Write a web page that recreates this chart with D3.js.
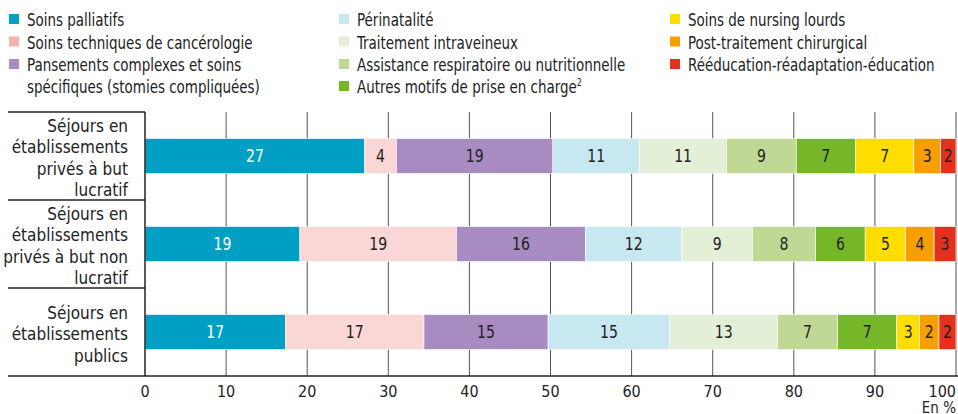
<!DOCTYPE html>
<html><head><meta charset="utf-8">
<script src="https://cdn.jsdelivr.net/npm/d3@7"></script>
<style>
body{margin:0;background:#fff;}
svg{display:block;font-family:"Liberation Sans Narrow","DejaVu Sans Condensed","Roboto Condensed",sans-serif;}
</style></head>
<body><svg id="chart" width="958" height="414"></svg>
<script>
// ---- data ----
const motifs = [
  "Soins palliatifs",
  "Soins techniques de cancérologie",
  "Pansements complexes et soins spécifiques (stomies compliquées)",
  "Périnatalité",
  "Traitement intraveineux",
  "Assistance respiratoire ou nutritionnelle",
  "Autres motifs de prise en charge²",
  "Soins de nursing lourds",
  "Post-traitement chirurgical",
  "Rééducation-réadaptation-éducation"
];
const categories = ["Privés lucratif", "Privés non lucratif", "Publics"];
const categoryLines = [
  ["Séjours en", "établissements", "privés à but", "lucratif"],
  ["Séjours en", "établissements", "privés à but non", "lucratif"],
  ["Séjours en", "établissements", "publics"]
];
const valuesLucratif    = [27.1, 3.9, 19.3, 10.7, 10.7, 8.6, 7.3, 7.2, 3.3, 1.9];
const valuesNonLucratif = [19.1, 19.3, 15.9, 11.9, 8.7, 7.8, 6.1, 5.0, 3.5, 2.7];
const valuesPublics     = [17.3, 17.1, 15.3, 15.0, 13.3, 7.4, 7.3, 2.8, 2.4, 2.1];
const labelsLucratif    = [27, 4, 19, 11, 11, 9, 7, 7, 3, 2];
const labelsNonLucratif = [19, 19, 16, 12, 9, 8, 6, 5, 4, 3];
const labelsPublics     = [17, 17, 15, 15, 13, 7, 7, 3, 2, 2];
const xTicks = [0, 10, 20, 30, 40, 50, 60, 70, 80, 90, 100];
const unitLabel = "En %";

// ---- styles ----
const colors = ["#009fc3","#fad6d5","#a78bc1","#c8e8f1","#e4efd7","#bfd995","#76b72a","#ffdd00","#f5a000","#e3311d"];
const legendColors = ["#009fc3","#f5b2ae","#a78bc1","#c8e8f1","#e4efd7","#bfd995","#76b72a","#ffdd00","#f5a000","#e3311d"];
const textColors = ["#fff","#222","#222","#222","#222","#222","#222","#222","#222","#222"];

const allValues = [valuesLucratif, valuesNonLucratif, valuesPublics];
const allLabels = [labelsLucratif, labelsNonLucratif, labelsPublics];
const table = categories.map((c, i) => {
  const o = {cat: c};
  motifs.forEach((m, j) => o[m] = allValues[i][j]);
  return o;
});

const svg = d3.select("#chart");
const x = d3.scaleLinear().domain([0, 100]).range([145, 956]);
const y = d3.scaleBand().domain(categories).range([112, 376]);
const barH = 35;

// gridlines
svg.append("g").selectAll("line").data(xTicks.slice(1)).join("line")
  .attr("x1", d => x(d)).attr("x2", d => x(d))
  .attr("y1", 112).attr("y2", 376)
  .attr("stroke", "#555").attr("stroke-width", 1);

// row separators
svg.append("g").selectAll("line").data(categories).join("line")
  .attr("x1", 8).attr("x2", 145)
  .attr("y1", d => y(d)).attr("y2", d => y(d))
  .attr("stroke", "#222").attr("stroke-width", 1.5);

// stacked bars
const series = d3.stack().keys(motifs)(table);
const gBars = svg.append("g");
series.forEach((s, j) => {
  gBars.append("g").selectAll("rect").data(s).join("rect")
    .attr("x", d => x(d[0]))
    .attr("width", d => x(d[1]) - x(d[0]))
    .attr("y", d => y(d.data.cat) + y.bandwidth() / 2 - barH / 2)
    .attr("height", barH)
    .attr("fill", colors[j])
    .attr("stroke", "#fff").attr("stroke-width", 0.6);
  gBars.append("g").selectAll("text").data(s).join("text")
    .attr("transform", d => `translate(${x((d[0] + d[1]) / 2)},${y(d.data.cat) + y.bandwidth() / 2 + 6}) scale(0.92,1)`)
    .attr("text-anchor", "middle")
    .attr("font-size", 17)
    .attr("fill", textColors[j])
    .text((d, i) => allLabels[i][j]);
});

// axes lines
svg.append("line").attr("x1", x(0)).attr("x2", x(0)).attr("y1", 112).attr("y2", 376)
  .attr("stroke", "#222").attr("stroke-width", 1.5);
svg.append("line").attr("x1", 8).attr("x2", 958).attr("y1", 376).attr("y2", 376)
  .attr("stroke", "#222").attr("stroke-width", 1.5);

// x tick labels
svg.append("g").selectAll("text").data(xTicks).join("text")
  .attr("x", d => x(d))
  .attr("y", 397)
  .attr("text-anchor", (d, i) => i === xTicks.length - 1 ? "end" : "middle")
  .attr("font-size", 16).attr("fill", "#222")
  .text(d => d);
svg.append("text").attr("x", 956).attr("y", 413).attr("text-anchor", "end")
  .attr("font-size", 15).attr("fill", "#222").text(unitLabel);

// category labels
categories.forEach((c, i) => {
  const lines = categoryLines[i];
  const cy = y(c) + y.bandwidth() / 2;
  const lh = 21.5;
  svg.append("g").selectAll("text").data(lines).join("text")
    .attr("x", 128)
    .attr("y", (d, k) => cy + (k - (lines.length - 1) / 2) * lh + 8)
    .attr("text-anchor", "end")
    .attr("font-size", 17).attr("fill", "#222")
    .text(d => d);
});

// legend
const legendItems = [
  {i: 0, col: 0, row: 0, lines: ["Soins palliatifs"]},
  {i: 1, col: 0, row: 1, lines: ["Soins techniques de cancérologie"]},
  {i: 2, col: 0, row: 2, lines: ["Pansements complexes et soins", "spécifiques (stomies compliquées)"]},
  {i: 3, col: 1, row: 0, lines: ["Périnatalité"]},
  {i: 4, col: 1, row: 1, lines: ["Traitement intraveineux"]},
  {i: 5, col: 1, row: 2, lines: ["Assistance respiratoire ou nutritionnelle"]},
  {i: 6, col: 1, row: 3, lines: ["Autres motifs de prise en charge"], sup: "2"},
  {i: 7, col: 2, row: 0, lines: ["Soins de nursing lourds"]},
  {i: 8, col: 2, row: 1, lines: ["Post-traitement chirurgical"]},
  {i: 9, col: 2, row: 2, lines: ["Rééducation-réadaptation-éducation"]}
];
const colX = [9, 339, 670];
const rowBase = [26, 48.5, 71, 93];
const gL = svg.append("g");
legendItems.forEach(it => {
  const bx = colX[it.col], by = rowBase[it.row];
  gL.append("rect").attr("x", bx).attr("y", by - 12).attr("width", 10).attr("height", 10)
    .attr("fill", legendColors[it.i]);
  it.lines.forEach((ln, k) => {
    const t = gL.append("text")
      .attr("transform", `translate(${bx + 18},${rowBase[it.row + k]}) scale(0.88,1)`)
      .attr("font-size", 17).attr("fill", "#222").text(ln);
    if (it.sup && k === it.lines.length - 1) {
      t.append("tspan").attr("font-size", 10).attr("dy", -7).text(it.sup);
    }
  });
});
</script></body></html>
